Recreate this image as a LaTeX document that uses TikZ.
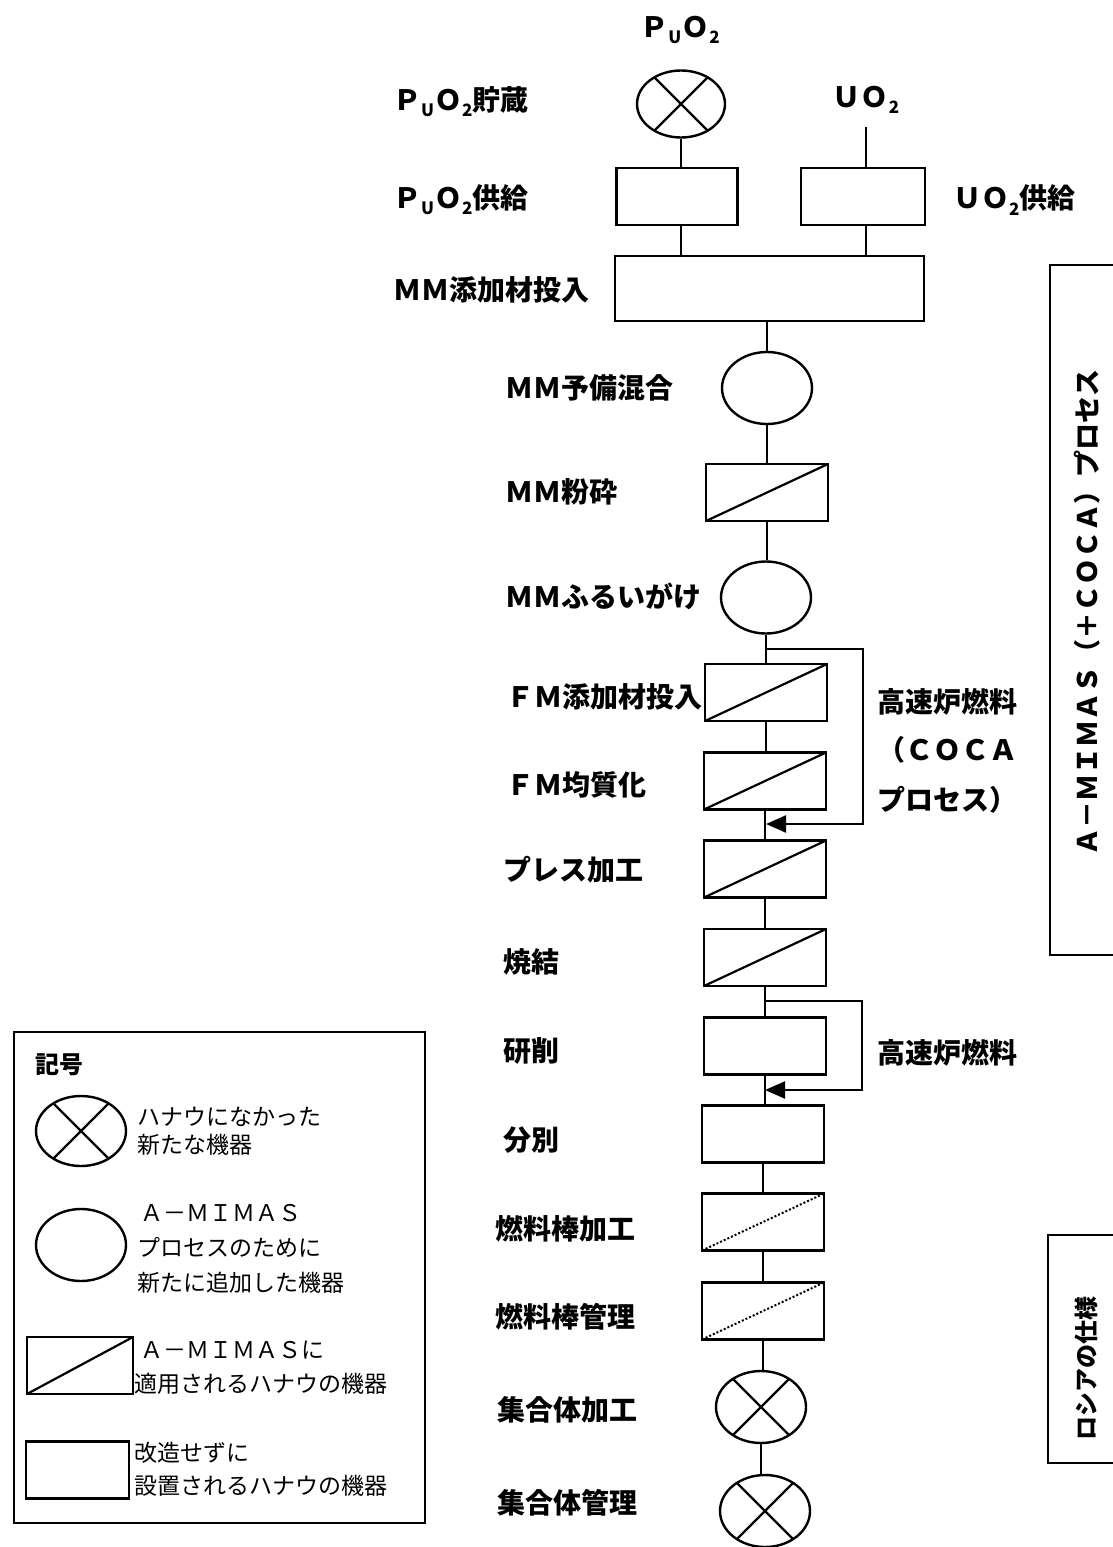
\documentclass[tikz,border=0pt]{standalone}
\usepackage{fontspec}
\setmainfont{Noto Sans CJK JP}
\usetikzlibrary{shapes.geometric,arrows.meta}
\newcommand{\lowsub}[1]{\raisebox{-0.22em}{\fontsize{17}{17}\selectfont #1}}
\tikzset{
  ln/.style={line width=2.2pt},
  procbox/.style={draw, rectangle, line width=2.4pt, minimum width=122pt, minimum height=57pt, inner sep=0pt},
  slashbox/.style={procbox, path picture={\draw[line width=2.2pt] (path picture bounding box.south west) -- (path picture bounding box.north east);}},
  dotbox/.style={procbox, path picture={\draw[line width=2pt, dotted] (path picture bounding box.south west) -- (path picture bounding box.north east);}},
  oval/.style={draw, ellipse, line width=2.4pt, minimum width=90pt, minimum height=72pt, inner sep=0pt},
  xoval/.style={oval, path picture={
     \draw[line width=2.2pt] ([shift={(-60pt,-60pt)}]path picture bounding box.center) -- ([shift={(60pt,60pt)}]path picture bounding box.center);
     \draw[line width=2.2pt] ([shift={(-60pt,60pt)}]path picture bounding box.center) -- ([shift={(60pt,-60pt)}]path picture bounding box.center);}},
  lbl/.style={anchor=west, inner sep=0pt, font=\fontsize{28}{32}\selectfont\bfseries},
  leg/.style={anchor=west, inner sep=0pt, font=\fontsize{23}{27}\selectfont},
  arr/.style={ln, -{Triangle[length=20pt,width=17pt]}}
}
\begin{document}
\begin{tikzpicture}[x=1pt,y=-1pt]
\useasboundingbox (0,0) rectangle (1113,1547);

% ---- top sources
\node[lbl, anchor=center] (tpu) at (680,30) {Ｐ\lowsub{U}Ｏ\lowsub{2}};
\node[xoval, minimum width=88pt, minimum height=67pt] (pus) at (681,104) {};
\node[lbl] (lpus) at (393,102) {Ｐ\lowsub{U}Ｏ\lowsub{2}貯蔵};
\node[lbl, anchor=center] (tuo) at (866,100) {ＵＯ\lowsub{2}};
\coordinate (uotop) at (866,127);
\node[procbox, minimum width=121pt] (puf) at (677,196.5) {};
\node[procbox, minimum width=124pt] (uof) at (863,196.5) {};
\node[lbl] (lpuf) at (393,200) {Ｐ\lowsub{U}Ｏ\lowsub{2}供給};
\node[lbl] (luof) at (953,200) {ＵＯ\lowsub{2}供給};
\node[procbox, minimum width=309pt, minimum height=65pt] (mma) at (769.5,288.5) {};
\node[lbl] (lmma) at (393,290) {ＭＭ添加材投入};

\draw[ln] (pus.south) -- (pus.south |- puf.north);
\draw[ln] (uotop) -- (uotop |- uof.north);
\draw[ln] (pus.south |- puf.south) -- (pus.south |- mma.north);
\draw[ln] (uotop |- uof.south) -- (uotop |- mma.north);

% ---- main column
\node[oval] (mmpre) at (767,388) {};
\node[slashbox] (mmpul) at (767,492.5) {};
\node[oval] (mmsv) at (766,597.5) {};
\node[slashbox] (fma) at (766,692.5) {};
\node[slashbox] (fmh) at (765,781) {};
\node[slashbox] (prs) at (765,869) {};
\node[slashbox] (snt) at (765,957.5) {};
\node[procbox] (grd) at (765,1046) {};
\node[procbox] (srt) at (763,1134) {};
\node[dotbox] (frp) at (763,1222) {};
\node[dotbox] (frm) at (763,1311) {};
\node[xoval] (asp) at (761,1407) {};
\node[xoval] (asm) at (765,1511) {};

\node[lbl] (l1) at (505,388) {ＭＭ予備混合};
\node[lbl] (l2) at (505,492) {ＭＭ粉砕};
\node[lbl] (l3) at (505,596) {ＭＭふるいがけ};
\node[lbl] (l4) at (506,697) {ＦＭ添加材投入};
\node[lbl] (l5) at (506,785) {ＦＭ均質化};
\node[lbl] (l6) at (503,870) {プレス加工};
\node[lbl] (l7) at (503,962) {焼結};
\node[lbl] (l8) at (503,1051) {研削};
\node[lbl] (l9) at (503,1140) {分別};
\node[lbl] (l10) at (495,1229) {燃料棒加工};
\node[lbl] (l11) at (495,1317) {燃料棒管理};
\node[lbl] (l12) at (497,1410) {集合体加工};
\node[lbl] (l13) at (497,1503) {集合体管理};

\draw[ln] (mmpre.north |- mma.south) -- (mmpre.north);
\draw[ln] (mmpre.south) -- (mmpre.south |- mmpul.north);
\draw[ln] (mmpul.south) -- (mmpul.south |- mmsv.north);
\draw[ln] (mmsv.south) -- (mmsv.south |- fma.north);
\draw[ln] (fma.south) -- (fma.south |- fmh.north);
\draw[ln] (fmh.south) -- (fmh.south |- prs.north);
\draw[ln] (prs.south) -- (prs.south |- snt.north);
\draw[ln] (snt.south) -- (snt.south |- grd.north);
\draw[ln] (grd.south) -- (grd.south |- srt.north);
\draw[ln] (srt.south) -- (srt.south |- frp.north);
\draw[ln] (frp.south) -- (frp.south |- frm.north);
\draw[ln] (frm.south) -- (frm.south |- asp.north);
\draw[ln] (asp.south) -- (asp.south |- asm.north);

% ---- bypass 1 (COCA)
\coordinate (b1s) at (766,649);
\coordinate (b1r) at (863,649);
\coordinate (b1d) at (863,824);
\coordinate (b1e) at (766,824);
\draw[arr] (b1s) -- (b1r) -- (b1d) -- (b1e);
\node[lbl] (c1) at (877,702) {高速炉燃料};
\node[lbl] (c2) at (877,750) {（ＣＯＣＡ};
\node[lbl] (c3) at (877,800) {プロセス）};

% ---- bypass 2
\coordinate (b2s) at (765,1001);
\coordinate (b2r) at (862,1001);
\coordinate (b2d) at (862,1090);
\coordinate (b2e) at (765,1090);
\draw[arr] (b2s) -- (b2r) -- (b2d) -- (b2e);
\node[lbl] (c4) at (877,1053) {高速炉燃料};

% ---- right brackets
\draw[ln] (1120,265) -- (1050,265) -- (1050,955) -- (1120,955);
\node[lbl, anchor=center, rotate=90, font=\fontsize{27}{30}\selectfont\bfseries] (rb1) at (1087,612) {Ａ－ＭＩＭＡＳ（＋ＣＯＣＡ）プロセス};
\draw[ln] (1120,1235) -- (1048,1235) -- (1048,1463) -- (1120,1463);
\node[lbl, anchor=center, rotate=90, font=\fontsize{24}{28}\selectfont\bfseries] (rb2) at (1086,1368) {ロシアの仕様};

% ---- legend
\node[draw, line width=2.2pt, minimum width=411pt, minimum height=491pt, inner sep=0pt] (legbox) at (219.5,1277.5) {};
\node[leg, font=\fontsize{24}{28}\selectfont\bfseries] (kigo) at (35,1065) {記号};
\node[xoval, minimum width=90pt, minimum height=70pt] (lg1) at (81,1131) {};
\node[leg] (lt1a) at (137,1117) {ハナウになかった};
\node[leg] (lt1b) at (137,1145) {新たな機器};
\node[oval] (lg2) at (81,1245) {};
\node[leg] (lt2a) at (140,1213) {Ａ－ＭＩＭＡＳ};
\node[leg] (lt2b) at (137,1247) {プロセスのために};
\node[leg] (lt2c) at (137,1283) {新たに追加した機器};
\node[slashbox, minimum width=106pt] (lg3) at (80,1365.5) {};
\node[leg] (lt3a) at (140,1350) {Ａ－ＭＩＭＡＳに};
\node[leg] (lt3b) at (134,1384) {適用されるハナウの機器};
\node[procbox, minimum width=103pt] (lg4) at (77.5,1470) {};
\node[leg] (lt4a) at (134,1453) {改造せずに};
\node[leg] (lt4b) at (134,1486) {設置されるハナウの機器};
\end{tikzpicture}
\end{document}
